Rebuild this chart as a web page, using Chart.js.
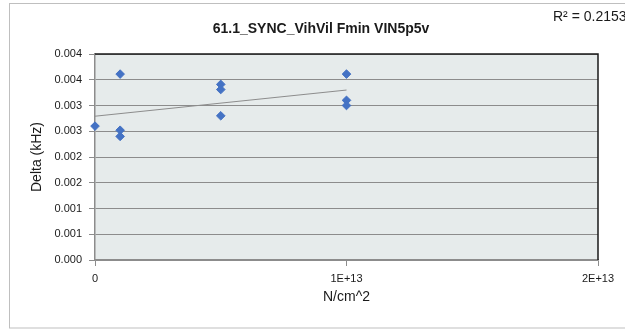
<!DOCTYPE html>
<html><head><meta charset="utf-8">
<script src="https://cdn.jsdelivr.net/npm/chart.js@4"></script>
<style>html,body{margin:0;padding:0;background:#fff}#wrap{width:625px;height:332px;position:relative}</style>
</head><body><div id="wrap"><canvas id="c" width="625" height="332"></canvas></div>
<script>
const chartTitle = '61.1_SYNC_VihVil Fmin VIN5p5v';
const xAxisTitle = 'N/cm^2';
const yAxisTitle = 'Delta (kHz)';
const rSquaredLabel = 'R² = 0.2153';
const fluence = [0, 1e12, 1e12, 1e12, 5e12, 5e12, 5e12, 1e13, 1e13, 1e13];
const delta = [0.00260, 0.00361, 0.00252, 0.00240, 0.00341, 0.00331, 0.00280, 0.00361, 0.00310, 0.00300];
const yTickLabels = ['0.000','0.001','0.001','0.002','0.002','0.003','0.003','0.004','0.004'];
const xTickLabels = ['0','1E+13','2E+13'];

// linear least-squares trendline through the data
const n = fluence.length;
const mx = fluence.reduce((a,b)=>a+b,0)/n;
const my = delta.reduce((a,b)=>a+b,0)/n;
let sxy = 0, sxx = 0;
for (let i = 0; i < n; i++) { sxy += (fluence[i]-mx)*(delta[i]-my); sxx += (fluence[i]-mx)**2; }
const slope = sxy/sxx, intercept = my - slope*mx;
const xMin = Math.min(...fluence), xMax = Math.max(...fluence);
const trend = [{x:xMin, y:intercept + slope*xMin}, {x:xMax, y:intercept + slope*xMax}];

const FONT = "'Liberation Sans', Arial, sans-serif";
const TXT = '#1a1a1a';
const GRID = '#8c8c8c';

const decor = {
  id: 'decor',
  beforeDraw(chart) {
    const {ctx, chartArea: a} = chart;
    ctx.save();
    ctx.fillStyle = '#ffffff';
    ctx.fillRect(0, 0, chart.width, chart.height);
    ctx.strokeStyle = '#bfbfbf';
    ctx.lineWidth = 1;
    ctx.strokeRect(9.5, 3.5, 700, 324.5);
    ctx.fillStyle = '#E6EBEB';
    ctx.fillRect(a.left, a.top, a.right - a.left, a.bottom - a.top);
    ctx.restore();
  },
  afterDraw(chart) {
    const {ctx, chartArea: a} = chart;
    ctx.save();
    ctx.strokeStyle = '#1a1a1a';
    ctx.lineWidth = 1.5;
    ctx.beginPath();
    ctx.moveTo(a.left, a.top);
    ctx.lineTo(a.right, a.top);
    ctx.lineTo(a.right, a.bottom);
    ctx.stroke();
    ctx.fillStyle = TXT;
    ctx.textBaseline = 'middle';
    ctx.textAlign = 'center';
    ctx.font = "bold 14px " + FONT;
    ctx.fillText(chartTitle, 321, 29);
    ctx.textAlign = 'left';
    ctx.font = "14px " + FONT;
    ctx.fillText(rSquaredLabel, 553, 17);
    ctx.restore();
  }
};

new Chart(document.getElementById('c'), {
  type: 'scatter',
  data: {
    datasets: [
      {
        type: 'line',
        data: trend,
        borderColor: '#8c8c8c',
        borderWidth: 1,
        pointRadius: 0,
        fill: false,
        order: 0
      },
      {
        data: fluence.map((x, i) => ({x, y: delta[i]})),
        pointStyle: 'rectRot',
        pointRadius: 4.3,
        pointHoverRadius: 4.3,
        backgroundColor: '#4472C4',
        borderColor: '#4472C4',
        borderWidth: 1,
        clip: false,
        order: 1
      }
    ]
  },
  options: {
    responsive: false,
    devicePixelRatio: 1,
    animation: false,
    layout: {padding: {left: 9, right: 27, top: 54, bottom: 4}},
    plugins: {legend: {display: false}, tooltip: {enabled: false}, title: {display: false}},
    scales: {
      x: {
        type: 'linear',
        min: 0, max: 2e13,
        afterFit(s) { s.height = 68; },
        ticks: {
          stepSize: 1e13,
          padding: 6,
          color: TXT,
          font: {family: FONT, size: 11},
          maxRotation: 0,
          callback: (v, i) => xTickLabels[i]
        },
        grid: {display: true, drawOnChartArea: false, drawTicks: true, tickLength: 6, color: GRID},
        border: {display: true, color: GRID, width: 1.5},
        title: {display: true, text: xAxisTitle, color: TXT, font: {family: FONT, size: 14}, padding: {top: 0, bottom: 22}}
      },
      y: {
        type: 'linear',
        min: 0, max: 0.004,
        afterFit(s) { s.width = 86; },
        ticks: {
          stepSize: 0.0005,
          padding: 7,
          color: TXT,
          font: {family: FONT, size: 11},
          callback: (v, i) => yTickLabels[i]
        },
        grid: {display: true, drawOnChartArea: true, drawTicks: true, tickLength: 6, color: GRID, lineWidth: 1},
        border: {display: true, color: GRID, width: 1.5},
        title: {display: true, text: yAxisTitle, color: TXT, font: {family: FONT, size: 14}, padding: {top: 20, bottom: 0}}
      }
    }
  },
  plugins: [decor]
});
</script>
</body></html>
